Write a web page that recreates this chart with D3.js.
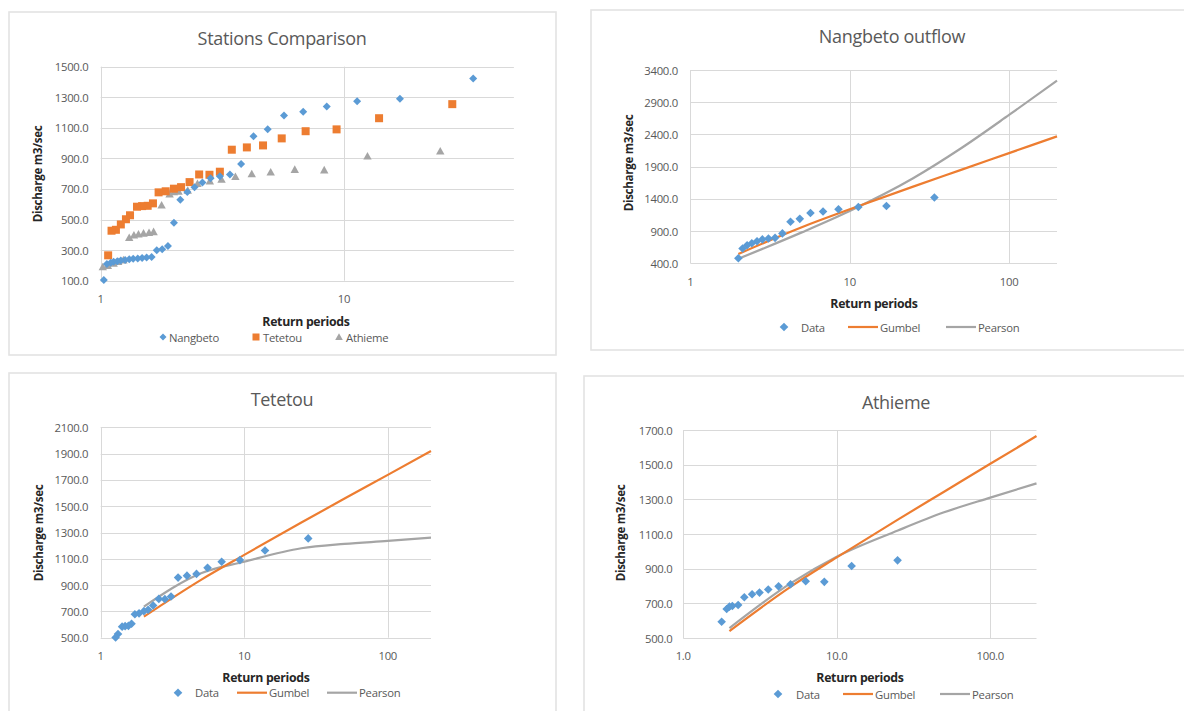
<!DOCTYPE html>
<html><head><meta charset="utf-8">
<script src="https://cdn.jsdelivr.net/npm/d3@7"></script>
<style>html,body{margin:0;padding:0;background:#fff;}svg{display:block;}</style>
</head><body><svg id="c" width="1184" height="711"></svg>
<script>
// ---------- DATA ----------
const nangbetoT = [34.0,17.0,11.33,8.5,6.8,5.67,4.86,4.25,3.78,3.4,3.09,2.83,2.62,2.43,2.27,2.125,2.0,1.89,1.79,1.70,1.62,1.545,1.48,1.42,1.36,1.31,1.26,1.21,1.17,1.13,1.10,1.06,1.03];
const nangbetoQ = [1422,1290,1274,1240,1205,1180,1090,1045,864,795,784,771,742,712,680,630,479,327,305,300,255,252,249,246,243,240,236,232,228,224,218,210,105];
const tetetouT = [27.9,13.95,9.33,6.96,5.55,4.65,3.99,3.46,3.09,2.80,2.54,2.32,2.14,2.00,1.85,1.73,1.64,1.56,1.48,1.41,1.32,1.27,1.21,1.155,1.108,1.073];
const tetetouQ = [1255,1163,1090,1078,1031,985,972,957,813,793,795,745,712,702,685,678,606,590,588,584,528,502,468,433,427,266];
const athiemeT = [24.9,12.5,8.3,6.28,5.0,4.18,3.58,3.14,2.81,2.5,2.28,2.09,2.0,1.92,1.78,1.65,1.58,1.50,1.43,1.37,1.31,1.24,1.18,1.13,1.07,1.02];
const athiemeQ = [948,915,824,827,810,798,780,762,752,735,690,685,681,667,594,420,414,410,405,398,381,235,224,213,198,190];

const curveT = [2,5,10,25,50,100,200];
const nangGumbel  = [545,960,1238,1590,1850,2110,2370];
const nangPearson = [470,880,1212,1720,2185,2702,3235];
const tetGumbel   = [660,940,1130,1376,1558,1738,1920];
const tetPearson  = [736,990,1078,1180,1213,1236,1261];
const athGumbel   = [540,795,965,1183,1344,1505,1665];
const athPearson  = [557,815,969,1120,1225,1310,1392];

const yTicks1 = [100,300,500,700,900,1100,1300,1500];
const yTicks2 = [400,900,1400,1900,2400,2900,3400];
const yTicks3 = [500,700,900,1100,1300,1500,1700,1900,2100];
const yTicks4 = [500,700,900,1100,1300,1500,1700];
const xTicksA = [1,10];
const xTicksB = [1,10,100];

const stationNames = ["Nangbeto","Tetetou","Athieme"];
const fitNames = ["Data","Gumbel","Pearson"];

// ---------- STYLE ----------
const BLUE="#5B9BD5", ORANGE="#ED7D31", GRAY="#A5A5A5";
const GRID="#d9d9d9", TXT="#595959", DARK="#262626";
const FONT="'Open Sans', 'Noto Sans', sans-serif";

const svg = d3.select("#c");
svg.append("rect").attr("width",1184).attr("height",711).attr("fill","#fff");
const defs = svg.append("defs");

function diamond(g,x,y,s,c){ g.append("path").attr("d",`M${x},${y-s}L${x+s},${y}L${x},${y+s}L${x-s},${y}Z`).attr("fill",c); }
function square(g,x,y,s,c){ g.append("rect").attr("x",x-s).attr("y",y-s).attr("width",2*s).attr("height",2*s).attr("fill",c); }
function triangle(g,x,y,s,c){ g.append("path").attr("d",`M${x},${y-s}L${x+s},${y+s*0.8}L${x-s},${y+s*0.8}Z`).attr("fill",c); }

let clipId=0;
function panel(cfg){
  const g = svg.append("g");
  g.append("rect").attr("x",cfg.box[0]).attr("y",cfg.box[1]).attr("width",cfg.box[2]).attr("height",cfg.box[3])
    .attr("fill","none").attr("stroke","#e3e3e3").attr("stroke-width",1.6);
  g.append("text").attr("x",cfg.title[1]).attr("y",cfg.title[2]).attr("text-anchor","middle")
    .attr("dominant-baseline","central").attr("font-family",FONT).attr("font-size",18)
    .attr("fill",TXT).attr("letter-spacing","-0.3").text(cfg.title[0]);
  const x = d3.scaleLog().domain(cfg.xDomain).range([cfg.plot[0],cfg.plot[1]]);
  const y = d3.scaleLinear().domain(cfg.yDomain).range([cfg.plot[3],cfg.plot[2]]);
  g.selectAll(null).data(cfg.yTicks).join("line")
    .attr("x1",cfg.plot[0]).attr("x2",cfg.plot[1]).attr("y1",d=>Math.round(y(d))+0.5).attr("y2",d=>Math.round(y(d))+0.5)
    .attr("stroke",GRID).attr("stroke-width",1);
  g.selectAll(null).data(cfg.xTicks).join("line")
    .attr("x1",d=>Math.round(x(d))+0.5).attr("x2",d=>Math.round(x(d))+0.5).attr("y1",cfg.plot[2]).attr("y2",cfg.plot[3])
    .attr("stroke",GRID).attr("stroke-width",1);
  g.selectAll(null).data(cfg.yTicks).join("text")
    .attr("x",cfg.yLabelX).attr("y",d=>y(d)).attr("text-anchor","end").attr("dominant-baseline","central")
    .attr("font-family",FONT).attr("font-size",11.3).attr("fill",TXT).attr("letter-spacing","-0.25")
    .text(d=>d3.format(".1f")(d));
  g.selectAll(null).data(cfg.xTicks).join("text")
    .attr("x",d=>x(d)).attr("y",cfg.xLabelY).attr("text-anchor","middle").attr("dominant-baseline","central")
    .attr("font-family",FONT).attr("font-size",11.3).attr("fill",TXT).attr("letter-spacing","-0.25")
    .text(d=>cfg.xFmt(d));
  g.append("text").attr("transform",`translate(${cfg.yTitle[0]},${cfg.yTitle[1]}) rotate(-90)`)
    .attr("text-anchor","middle").attr("dominant-baseline","central").attr("font-family",FONT)
    .attr("font-weight","bold").attr("font-size",11.6).attr("fill",DARK).attr("letter-spacing","-0.3").text("Discharge m3/sec");
  g.append("text").attr("x",cfg.xTitle[0]).attr("y",cfg.xTitle[1]).attr("text-anchor","middle")
    .attr("dominant-baseline","central").attr("font-family",FONT).attr("font-weight","bold")
    .attr("font-size",12.3).attr("fill",DARK).attr("letter-spacing","-0.3").text("Return periods");
  const id="clip"+(clipId++);
  defs.append("clipPath").attr("id",id).append("rect")
    .attr("x",cfg.plot[0]-6).attr("y",cfg.plot[2]-6).attr("width",cfg.plot[1]-cfg.plot[0]+12).attr("height",cfg.plot[3]-cfg.plot[2]+12);
  const pg = g.append("g").attr("clip-path",`url(#${id})`);
  return {g,pg,x,y};
}

function legendText(g,xp,yp,t){
  g.append("text").attr("x",xp).attr("y",yp).attr("dominant-baseline","central").attr("font-family",FONT)
    .attr("font-size",11.3).attr("fill",TXT).attr("letter-spacing","-0.25").text(t);
}

// ---------- Panel 1: Stations Comparison ----------
{
  const p = panel({box:[9,12,547,343], title:["Stations Comparison",282,38], plot:[100.7,513.9,66.7,280.7],
    xDomain:[1,50], yDomain:[100,1500], yTicks:yTicks1, xTicks:xTicksA, xFmt:d=>d, yLabelX:88.5, xLabelY:298,
    yTitle:[37,174], xTitle:[306,321]});
  const ath = athiemeT.map((t,i)=>[t,athiemeQ[i]]);
  const tet = tetetouT.map((t,i)=>[t,tetetouQ[i]]);
  const nan = nangbetoT.map((t,i)=>[t,nangbetoQ[i]]);
  ath.forEach(d=>triangle(p.pg,p.x(d[0]),p.y(d[1]),4.2,GRAY));
  tet.forEach(d=>square(p.pg,p.x(d[0]),p.y(d[1]),4,ORANGE));
  nan.forEach(d=>diamond(p.pg,p.x(d[0]),p.y(d[1]),4,BLUE));
  diamond(p.g,163,337,3.5,BLUE); legendText(p.g,169,337,stationNames[0]);
  square(p.g,256,337,3.5,ORANGE); legendText(p.g,263,337,stationNames[1]);
  triangle(p.g,339,337,3.8,GRAY); legendText(p.g,346,337,stationNames[2]);
}

function fitPanel(cfg, T, Q, G, P){
  const p = panel(cfg);
  const line = d3.line().x(d=>p.x(d[0])).y(d=>p.y(d[1])).curve(d3.curveMonotoneX);
  p.pg.append("path").attr("d",line(curveT.map((t,i)=>[t,P[i]]))).attr("fill","none").attr("stroke",GRAY).attr("stroke-width",2.2);
  p.pg.append("path").attr("d",line(curveT.map((t,i)=>[t,G[i]]))).attr("fill","none").attr("stroke",ORANGE).attr("stroke-width",2.2);
  T.map((t,i)=>[t,Q[i]]).filter(d=>d[1]>=cfg.yDomain[0]-5 && d[0]>=cfg.xDomain[0])
    .forEach(d=>diamond(p.pg,p.x(d[0]),p.y(d[1]),4.3,BLUE));
  const L = cfg.legend;
  diamond(p.g,L[0],L[4],4.3,BLUE); legendText(p.g,L[1],L[4],fitNames[0]);
  p.g.append("line").attr("x1",L[2]).attr("x2",L[2]+30).attr("y1",L[4]).attr("y2",L[4]).attr("stroke",ORANGE).attr("stroke-width",2.2);
  legendText(p.g,L[2]+32,L[4],fitNames[1]);
  p.g.append("line").attr("x1",L[3]).attr("x2",L[3]+30).attr("y1",L[4]).attr("y2",L[4]).attr("stroke",GRAY).attr("stroke-width",2.2);
  legendText(p.g,L[3]+32,L[4],fitNames[2]);
}

// ---------- Panel 2: Nangbeto outflow ----------
fitPanel({box:[591,10,600,340], title:["Nangbeto outflow",892,36], plot:[690.4,1057,70,263.3],
  xDomain:[1,200], yDomain:[400,3400], yTicks:yTicks2, xTicks:xTicksB, xFmt:d=>d, yLabelX:678, xLabelY:281,
  yTitle:[628,163], xTitle:[874,303], legend:[784,801,848,946,327]},
  nangbetoT.slice(0,17), nangbetoQ.slice(0,17), nangGumbel, nangPearson);

// ---------- Panel 3: Tetetou ----------
fitPanel({box:[9,373,547,350], title:["Tetetou",282,399], plot:[100.7,431,427.3,637.7],
  xDomain:[1,200], yDomain:[500,2100], yTicks:yTicks3, xTicks:xTicksB, xFmt:d=>d, yLabelX:88.3, xLabelY:655,
  yTitle:[38,533], xTitle:[266,677], legend:[178,195,237,327,692.7]},
  tetetouT, tetetouQ, tetGumbel, tetPearson);

// ---------- Panel 4: Athieme ----------
fitPanel({box:[584,376,610,350], title:["Athieme",896,402], plot:[683.2,1036.5,430,638],
  xDomain:[1,200], yDomain:[500,1700], yTicks:yTicks4, xTicks:xTicksB, xFmt:d=>d3.format(".1f")(d), yLabelX:672.5, xLabelY:655,
  yTitle:[620,533], xTitle:[860,677], legend:[778,796,843,940,694]},
  athiemeT, athiemeQ, athGumbel, athPearson);
</script></body></html>
